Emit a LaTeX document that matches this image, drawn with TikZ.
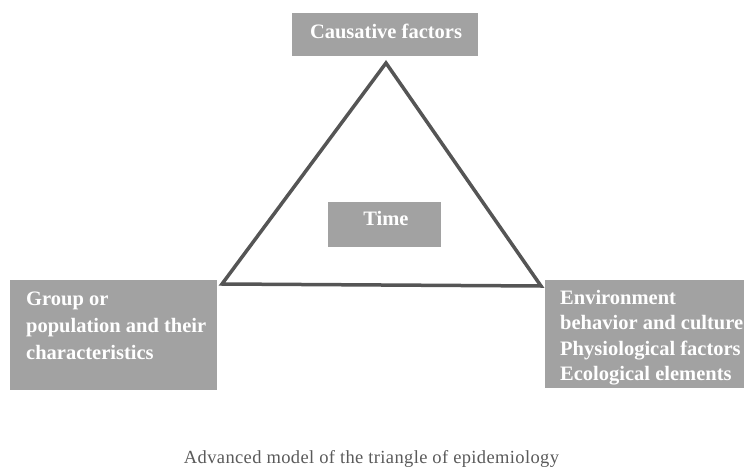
\documentclass[tikz,border=0pt]{standalone}
\usepackage{fontspec}
\setmainfont{Liberation Serif}
\newfontfamily\capfont[LetterSpace=2.0]{Liberation Serif}
\definecolor{boxgray}{HTML}{A2A2A2}
\definecolor{linegray}{HTML}{555555}
\definecolor{capgray}{HTML}{5A5A5A}
\begin{document}
\begin{tikzpicture}[x=1pt,y=-1pt,
  graybox/.style={fill=boxgray, draw=none, inner sep=0pt, anchor=north west},
  boxtext/.style={text=white, font=\bfseries\fontsize{20.5}{27}\selectfont, inner sep=0pt, align=left},
  triline/.style={draw=linegray, line width=3.5pt, line join=miter}]
\path[use as bounding box] (0,0) rectangle (744,468);
% boxes
\node[graybox, minimum width=186pt, minimum height=43pt] (cause) at (292,13) {};
\node[graybox, minimum width=113pt, minimum height=45pt] (time) at (328,202) {};
\node[graybox, minimum width=207pt, minimum height=110pt] (group) at (10,280) {};
\node[graybox, minimum width=199pt, minimum height=108pt] (env) at (545,280) {};
% texts (base anchor of a multi-line node is the last line's baseline)
\node[boxtext, anchor=base] (causet) at (386,39) {Causative factors};
\node[boxtext, anchor=base] (timet) at (386,225) {Time};
\node[boxtext, anchor=base west] (groupt) at (26,359) {Group or\\population and their\\characteristics};
\node[boxtext, anchor=base west, font=\bfseries\fontsize{20.5}{25.5}\selectfont] (envt) at (560,380.5) {Environment\\behavior and culture\\Physiological factors\\Ecological elements};
% triangle
\coordinate (apex) at (386,63);
\coordinate (bl) at (222,284);
\coordinate (br) at (541,286);
\draw[triline] (apex) -- (bl) -- (br) -- cycle;
% caption
\node[inner sep=0pt, anchor=base, text=capgray, font=\capfont\fontsize{18.5}{22}\selectfont] (cap) at (371.5,463) {Advanced model of the triangle of epidemiology};
\end{tikzpicture}
\end{document}
